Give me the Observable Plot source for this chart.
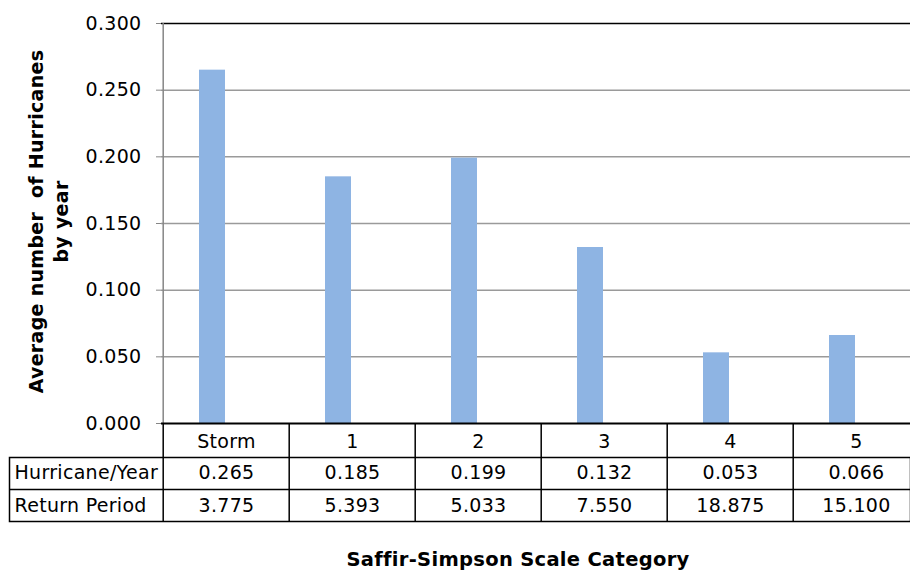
<!DOCTYPE html>
<html><head><meta charset="utf-8">
<script src="https://cdn.jsdelivr.net/npm/d3@7"></script>
<script src="https://cdn.jsdelivr.net/npm/@observablehq/plot@0.6"></script>
<style>body{margin:0;background:#fff;overflow:hidden;}</style>
</head><body><div id="chart"></div>
<script>
const categories = ["Storm", "1", "2", "3", "4", "5"];
const hurricanesPerYear = [0.265, 0.185, 0.199, 0.132, 0.053, 0.066];
const returnPeriod = [3.775, 5.393, 5.033, 7.550, 18.875, 15.100];
const yTicks = [0, 0.05, 0.1, 0.15, 0.2, 0.25, 0.3];
const rowLabels = ["Hurricane/Year", "Return Period"];
const xTitle = "Saffir-Simpson Scale Category";
const yTitle = "Average number  of Hurricanes\nby year";

const data = categories.map((c, i) => ({cat: c, hy: hurricanesPerYear[i], rp: returnPeriod[i]}));
const fmt = d3.format(".3f");
const font = "'DejaVu Sans', Verdana, sans-serif";
const half = 63.3;

const chart = Plot.plot({
  width: 910, height: 571,
  marginLeft: 161, marginRight: 0, marginTop: 23, marginBottom: 148,
  style: {fontFamily: font, fontSize: "19px", letterSpacing: "0.3px", background: "#fff", color: "#000"},
  x: {domain: categories, range: [161, 920.6], padding: 0},
  y: {domain: [0, 0.3]},
  marks: [
    Plot.ruleY(yTicks.filter(t => t > 0 && t < 0.3), {stroke: "#9a9a9a", strokeWidth: 1.5}),
    Plot.ruleY([0.3], {stroke: "#000", strokeWidth: 1.5}),
    Plot.barY(data, {x: "cat", y: "hy", fill: "#8eb4e3", insetLeft: 36, insetRight: 64}),
    Plot.ruleX([categories[0]], {dx: -half, stroke: "#868686", strokeWidth: 1.5}),
    Plot.axisY({ticks: yTicks, tickFormat: fmt, tickSize: 5, tickPadding: 15, stroke: "#868686", fill: "#000", label: null}),
    Plot.ruleY([0], {stroke: "#000", strokeWidth: 2}),
    Plot.axisX({tickSize: 98, tickFormat: () => "", label: null, stroke: "#000", strokeWidth: 1.5, dx: -half}),
    Plot.axisX({tickSize: 0, tickPadding: 11, label: null, fill: "#000"}),
    Plot.frame({insetLeft: -152, insetTop: 434, insetBottom: -98, stroke: "#000", strokeWidth: 1.5}),
    Plot.ruleY([0], {dy: 66, insetLeft: -152, stroke: "#000", strokeWidth: 1.5}),
    Plot.text(data, {x: "cat", text: d => fmt(d.hy), frameAnchor: "bottom", dy: 55}),
    Plot.text(data, {x: "cat", text: d => fmt(d.rp), frameAnchor: "bottom", dy: 88}),
    Plot.text([rowLabels[0]], {text: d => d, frameAnchor: "bottom-left", textAnchor: "start", dx: -147, dy: 55}),
    Plot.text([rowLabels[1]], {text: d => d, frameAnchor: "bottom-left", textAnchor: "start", dx: -147, dy: 88}),
    Plot.text([xTitle], {text: d => d, frameAnchor: "bottom", dx: -18, dy: 142, fontWeight: "bold", fontSize: 19.5, letterSpacing: "1.6px"}),
    Plot.text([yTitle], {text: d => d, frameAnchor: "left", textAnchor: "middle", dx: -114, dy: -2, rotate: -90, fontWeight: "bold", lineHeight: 1.33, letterSpacing: "0.9px"})
  ]
});
document.getElementById("chart").append(chart);
</script>
</body></html>
